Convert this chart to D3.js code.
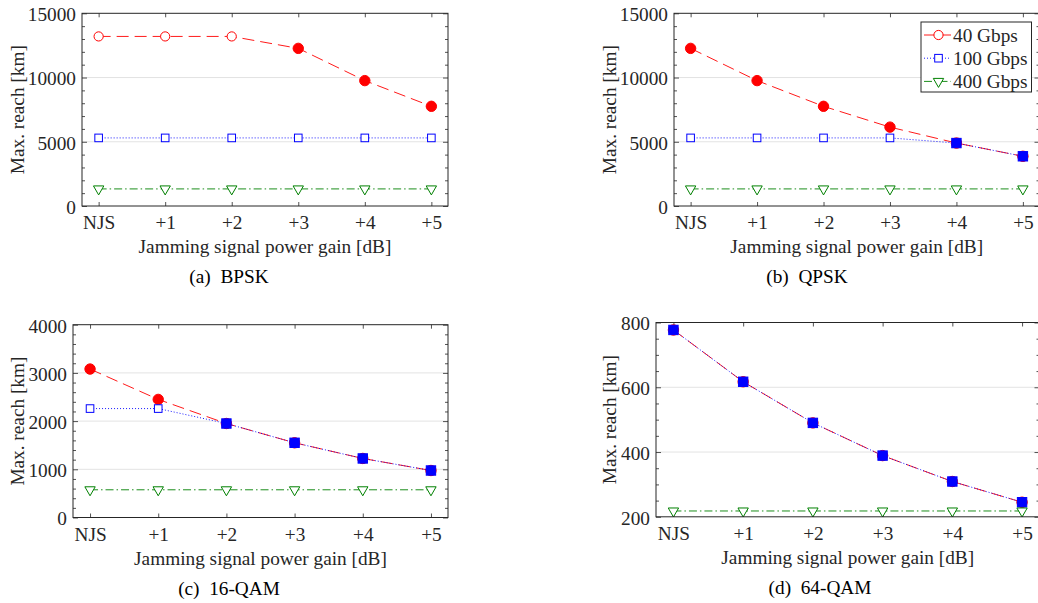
<!DOCTYPE html>
<html>
<head>
<meta charset="utf-8">
<script src="https://cdn.jsdelivr.net/npm/d3@7"></script>
<style>
  body { margin: 0; background: #fff; }
  svg { display: block; }
  text { font-family: "Liberation Serif", "DejaVu Serif", serif; }
</style>
</head>
<body>
<svg id="chart" width="1038" height="603"></svg>
<script>
// categories on the x axis
const cats = ["NJS", "+1", "+2", "+3", "+4", "+5"];
const rates = ["40 Gbps", "100 Gbps", "400 Gbps"];

// (a) BPSK
const bpsk40 = [13200, 13200, 13200, 12270, 9760, 7760];
const bpsk100 = [5300, 5300, 5300, 5300, 5300, 5300];
const bpsk400 = [1330, 1330, 1330, 1330, 1330, 1330];
const bpskFill40 = [0, 0, 0, 1, 1, 1];
const bpskFill100 = [0, 0, 0, 0, 0, 0];

// (b) QPSK
const qpsk40 = [12270, 9760, 7760, 6140, 4900, 3870];
const qpsk100 = [5300, 5300, 5300, 5300, 4900, 3870];
const qpsk400 = [1330, 1330, 1330, 1330, 1330, 1330];
const qpskFill40 = [1, 1, 1, 1, 1, 1];
const qpskFill100 = [0, 0, 0, 0, 1, 1];

// (c) 16-QAM
const qam16_40 = [3080, 2450, 1950, 1550, 1225, 975];
const qam16_100 = [2260, 2260, 1950, 1550, 1225, 975];
const qam16_400 = [575, 575, 575, 575, 575, 575];
const qam16Fill40 = [1, 1, 1, 1, 1, 1];
const qam16Fill100 = [0, 0, 1, 1, 1, 1];

// (d) 64-QAM
const qam64_40 = [777, 617, 490, 389, 309, 245];
const qam64_100 = [777, 617, 490, 389, 309, 245];
const qam64_400 = [218, 218, 218, 218, 218, 218];
const qam64Fill40 = [1, 1, 1, 1, 1, 1];
const qam64Fill100 = [1, 1, 1, 1, 1, 1];

const noFill = [0, 0, 0, 0, 0, 0];

const svg = d3.select("#chart");
const ink = "#262626";
const fs = 19.3;

const styles = [
  { color: "#ff0000", dash: "12,6", shape: "circle" },
  { color: "#0000ff", dash: "1,2", shape: "square" },
  { color: "#008000", dash: "8,3,1.5,3", shape: "triangle" }
];

const panels = [
  { caption: "(a)\u00a0\u00a0BPSK", box: [82, 13.3, 448, 206], capX: 229, ylabX: 23.5,
    yDom: [0, 15000], yStep: 5000, yMinor: 1000,
    series: [[bpsk40, bpskFill40], [bpsk100, bpskFill100], [bpsk400, noFill]] },
  { caption: "(b)\u00a0\u00a0QPSK", box: [674, 13.3, 1039.5, 206], capX: 807, ylabX: 616,
    yDom: [0, 15000], yStep: 5000, yMinor: 1000, legend: true,
    series: [[qpsk40, qpskFill40], [qpsk100, qpskFill100], [qpsk400, noFill]] },
  { caption: "(c)\u00a0\u00a016-QAM", box: [73, 324.7, 448, 517.5], capX: 229, ylabX: 23.5,
    yDom: [0, 4000], yStep: 1000, yMinor: 200,
    series: [[qam16_40, qam16Fill40], [qam16_100, qam16Fill100], [qam16_400, noFill]] },
  { caption: "(d)\u00a0\u00a064-QAM", box: [656, 322.5, 1039.5, 516.8], capX: 820, ylabX: 616,
    yDom: [200, 800], yStep: 200, yMinor: 50,
    series: [[qam64_40, qam64Fill40], [qam64_100, qam64Fill100], [qam64_400, noFill]] }
];

function marker(g, shape, cx, cy, filled, color) {
  if (shape === "circle") {
    g.append("circle").attr("cx", cx).attr("cy", cy).attr("r", filled ? 5.2 : 4.6)
      .attr("fill", filled ? color : "#fff").attr("stroke", color).attr("stroke-width", 1);
  } else if (shape === "square") {
    const s = filled ? 9.4 : 7.6;
    g.append("rect").attr("x", cx - s / 2).attr("y", cy - s / 2).attr("width", s).attr("height", s)
      .attr("fill", filled ? color : "#fff").attr("stroke", color).attr("stroke-width", 1);
  } else {
    const r = 6;
    g.append("path")
      .attr("d", `M${cx - r * 0.866},${cy - r / 2}L${cx + r * 0.866},${cy - r / 2}L${cx},${cy + r}Z`)
      .attr("fill", filled ? color : "#fff").attr("stroke", color).attr("stroke-width", 1);
  }
}

function styleAxis(a) {
  a.attr("color", ink);
  a.select(".domain").remove();
  a.selectAll("text").attr("font-family", "Liberation Serif").attr("font-size", fs).attr("fill", ink);
  a.selectAll("line").attr("stroke-width", 0.8);
}

panels.forEach(p => {
  const [l, t, r, b] = p.box;
  const x = d3.scalePoint().domain(cats).range([l, r]).padding(0.25);
  const y = d3.scaleLinear().domain(p.yDom).range([b, t]);
  const major = d3.range(p.yDom[0], p.yDom[1] + 1, p.yStep);
  const minor = d3.range(p.yDom[0], p.yDom[1] + 1, p.yMinor).filter(v => !major.includes(v));
  const g = svg.append("g");

  // grid
  g.selectAll(".grid").data(major.slice(1, -1)).join("line")
    .attr("x1", l).attr("x2", r).attr("y1", d => y(d)).attr("y2", d => y(d))
    .attr("stroke", "#e3e3e3").attr("stroke-width", 1);

  // axes, ticks inward
  const left = g.append("g").attr("transform", `translate(${l},0)`)
    .call(d3.axisLeft(y).tickValues(major).tickSize(-5).tickPadding(6).tickFormat(d3.format("d")));
  styleAxis(left);
  left.selectAll("text").attr("dy", "0.38em");
  styleAxis(g.append("g").attr("transform", `translate(${l},0)`)
    .call(d3.axisLeft(y).tickValues(minor).tickSize(-3).tickFormat("")));
  styleAxis(g.append("g").attr("transform", `translate(${r},0)`)
    .call(d3.axisRight(y).tickValues(major).tickSize(-5).tickFormat("")));
  styleAxis(g.append("g").attr("transform", `translate(${r},0)`)
    .call(d3.axisRight(y).tickValues(minor).tickSize(-3).tickFormat("")));
  styleAxis(g.append("g").attr("transform", `translate(0,${b})`)
    .call(d3.axisBottom(x).tickSize(-4).tickPadding(9.5)));
  styleAxis(g.append("g").attr("transform", `translate(0,${t})`)
    .call(d3.axisTop(x).tickSize(-4).tickFormat("")));

  // series
  const line = d3.line().x((d, i) => x(cats[i])).y(d => y(d));
  p.series.forEach(([vals, fills], si) => {
    const st = styles[si];
    g.append("path").attr("d", line(vals)).attr("fill", "none")
      .attr("stroke", st.color).attr("stroke-width", 0.9).attr("stroke-dasharray", st.dash);
    vals.forEach((v, i) => marker(g, st.shape, x(cats[i]), y(v), fills[i], st.color));
  });

  // frame
  g.append("rect").attr("x", l).attr("y", t).attr("width", r - l).attr("height", b - t)
    .attr("fill", "none").attr("stroke", ink).attr("stroke-width", 1);

  // labels
  g.append("text").attr("x", (l + r) / 2).attr("y", b + 47).attr("text-anchor", "middle")
    .attr("font-size", fs).attr("fill", ink).text("Jamming signal power gain [dB]");
  g.append("text").attr("transform", `translate(${p.ylabX},${(t + b) / 2}) rotate(-90)`)
    .attr("text-anchor", "middle").attr("font-size", fs).attr("fill", ink).text("Max. reach [km]");
  g.append("text").attr("x", p.capX).attr("y", b + 77).attr("text-anchor", "middle")
    .attr("font-size", fs).attr("fill", "#000").text(p.caption);

  if (p.legend) {
    const lg = svg.append("g");
    lg.append("rect").attr("x", 921).attr("y", 22).attr("width", 110.5).attr("height", 70)
      .attr("fill", "#fff").attr("stroke", ink).attr("stroke-width", 1);
    rates.forEach((name, i) => {
      const ry = 35 + i * 23.2;
      const st = styles[i];
      lg.append("line").attr("x1", 924).attr("x2", 951).attr("y1", ry).attr("y2", ry)
        .attr("stroke", st.color).attr("stroke-width", 0.9).attr("stroke-dasharray", st.dash);
      marker(lg, st.shape, 938.5, ry, 0, st.color);
      lg.append("text").attr("x", 953).attr("y", ry).attr("dy", "0.35em")
        .attr("font-size", fs).attr("fill", ink).text(name);
    });
  }
});
</script>
</body>
</html>
